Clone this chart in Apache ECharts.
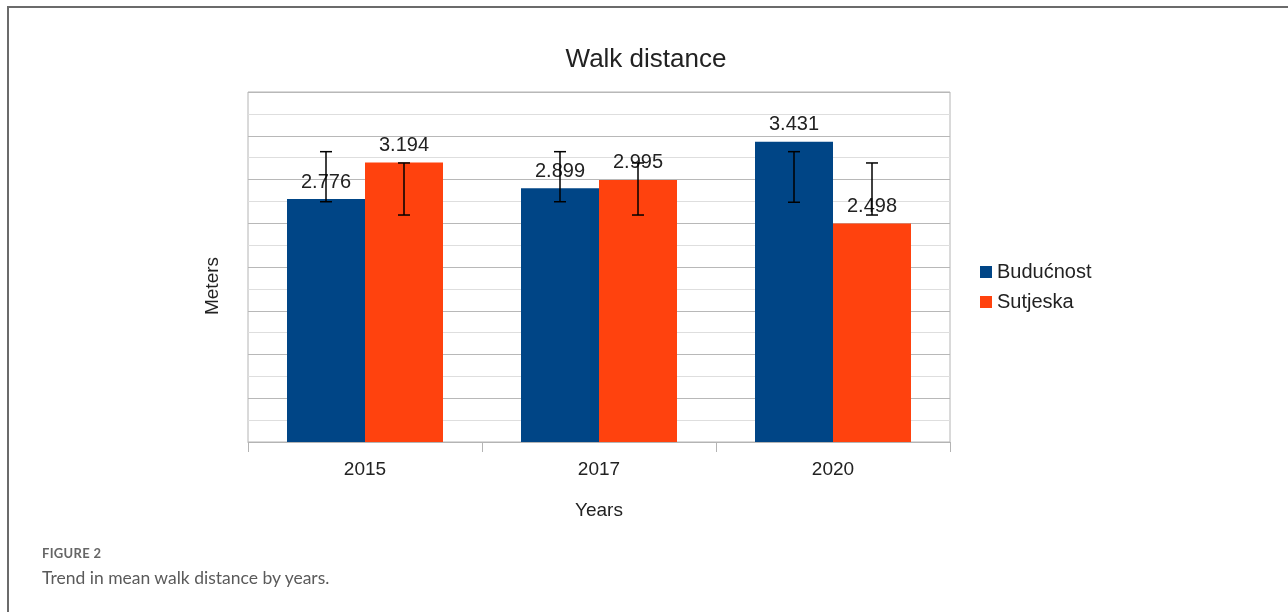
<!DOCTYPE html>
<html>
<head>
<meta charset="utf-8">
<script src="https://cdn.jsdelivr.net/npm/echarts@6/dist/echarts.min.js"></script>
<style>
  html, body { margin: 0; padding: 0; background: #fff; }
  #frame {
    position: absolute; left: 7px; top: 6px; width: 1281px; height: 606px;
    border-left: 2px solid #6b6b6b; border-top: 2px solid #6b6b6b;
    box-sizing: border-box;
  }
  #chart { position: absolute; left: 0; top: 0; width: 1288px; height: 612px; }
  .caption { position: absolute; left: 42px; font-family: Lato, "Open Sans", sans-serif; color: #666; }
  #fig { top: 545px; font-size: 13px; font-weight: bold; letter-spacing: 0.3px; }
  #cap { top: 567px; font-size: 17.5px; color: #5a5a5a; }
</style>
</head>
<body>
<div id="chart"></div>
<div id="frame"></div>
<div class="caption" id="fig">FIGURE 2</div>
<div class="caption" id="cap">Trend in mean walk distance by years.</div>
<script>
// 数据
const years = ['2015', '2017', '2020']
const buducnost = [2.776, 2.899, 3.431]
const sutjeska = [3.194, 2.995, 2.498]
// 误差线（原图中每组误差线位置相同）
const buducnostLow = [2.746, 2.746, 2.740]
const buducnostHigh = [3.318, 3.318, 3.318]
const sutjeskaLow = [2.594, 2.594, 2.594]
const sutjeskaHigh = [3.189, 3.189, 3.189]

const font = 'Liberation Sans'
const colors = ['#004586', '#ff420e']

const errorSeries = (low, high, offset) => ({
  type: 'custom',
  silent: true,
  z: 10,
  data: low.map((v, i) => [i, v, high[i]]),
  renderItem: (params, api) => {
    const lo = api.coord([api.value(0), api.value(1)])
    const hi = api.coord([api.value(0), api.value(2)])
    const band = api.size([1, 0])[0]
    const cx = lo[0] + offset * band
    const style = { stroke: '#000', lineWidth: 1.5 }
    return {
      type: 'group',
      children: [
        { type: 'line', shape: { x1: cx, y1: lo[1], x2: cx, y2: hi[1] }, style },
        { type: 'line', shape: { x1: cx - 6, y1: lo[1], x2: cx + 6, y2: lo[1] }, style },
        { type: 'line', shape: { x1: cx - 6, y1: hi[1], x2: cx + 6, y2: hi[1] }, style }
      ]
    }
  }
})

const barLabel = {
  show: true,
  position: 'top',
  distance: 7,
  fontFamily: font,
  fontSize: 20,
  color: '#222'
}

const chart = echarts.init(document.getElementById('chart'))
chart.setOption({
  animation: false,
  title: {
    text: 'Walk distance',
    left: 641,
    top: 42,
    textAlign: 'center',
    textStyle: { fontFamily: font, fontSize: 26, fontWeight: 'normal', color: '#222' }
  },
  grid: { left: 248, top: 92, width: 702, height: 350, show: true, borderColor: '#b4b4b4', borderWidth: 1 },
  legend: {
    orient: 'vertical',
    left: 975,
    top: 257,
    itemWidth: 12,
    itemHeight: 12,
    itemGap: 10,
    icon: 'rect',
    data: ['Budućnost', 'Sutjeska'],
    textStyle: { fontFamily: font, fontSize: 20, color: '#222' }
  },
  xAxis: {
    type: 'category',
    data: years,
    name: 'Years',
    nameLocation: 'middle',
    nameGap: 59,
    nameTextStyle: { fontFamily: font, fontSize: 19, color: '#222' },
    axisLine: { lineStyle: { color: '#b4b4b4' } },
    axisTick: { show: true, length: 10, lineStyle: { color: '#b4b4b4' } },
    axisLabel: { fontFamily: font, fontSize: 19, color: '#222', margin: 18 }
  },
  yAxis: {
    type: 'value',
    min: 0,
    max: 4,
    interval: 0.5,
    axisLine: { show: false },
    axisTick: { show: false },
    axisLabel: { show: false },
    splitLine: { lineStyle: { color: '#b8b8b8' } },
    minorTick: { show: false, splitNumber: 2 },
    minorSplitLine: { show: true, lineStyle: { color: '#dedede' } }
  },
  graphic: [{
    type: 'text',
    x: 213,
    y: 286,
    rotation: Math.PI / 2,
    style: {
      text: 'Meters',
      font: '19px ' + font,
      fill: '#222',
      align: 'center',
      verticalAlign: 'middle'
    }
  }],
  series: [
    {
      name: 'Budućnost',
      type: 'bar',
      data: buducnost,
      barWidth: 78,
      barGap: '0%',
      itemStyle: { color: colors[0] },
      label: barLabel
    },
    {
      name: 'Sutjeska',
      type: 'bar',
      data: sutjeska,
      barWidth: 78,
      barGap: '0%',
      itemStyle: { color: colors[1] },
      label: barLabel
    },
    errorSeries(buducnostLow, buducnostHigh, -1 / 6),
    errorSeries(sutjeskaLow, sutjeskaHigh, 1 / 6)
  ]
})
</script>
</body>
</html>
